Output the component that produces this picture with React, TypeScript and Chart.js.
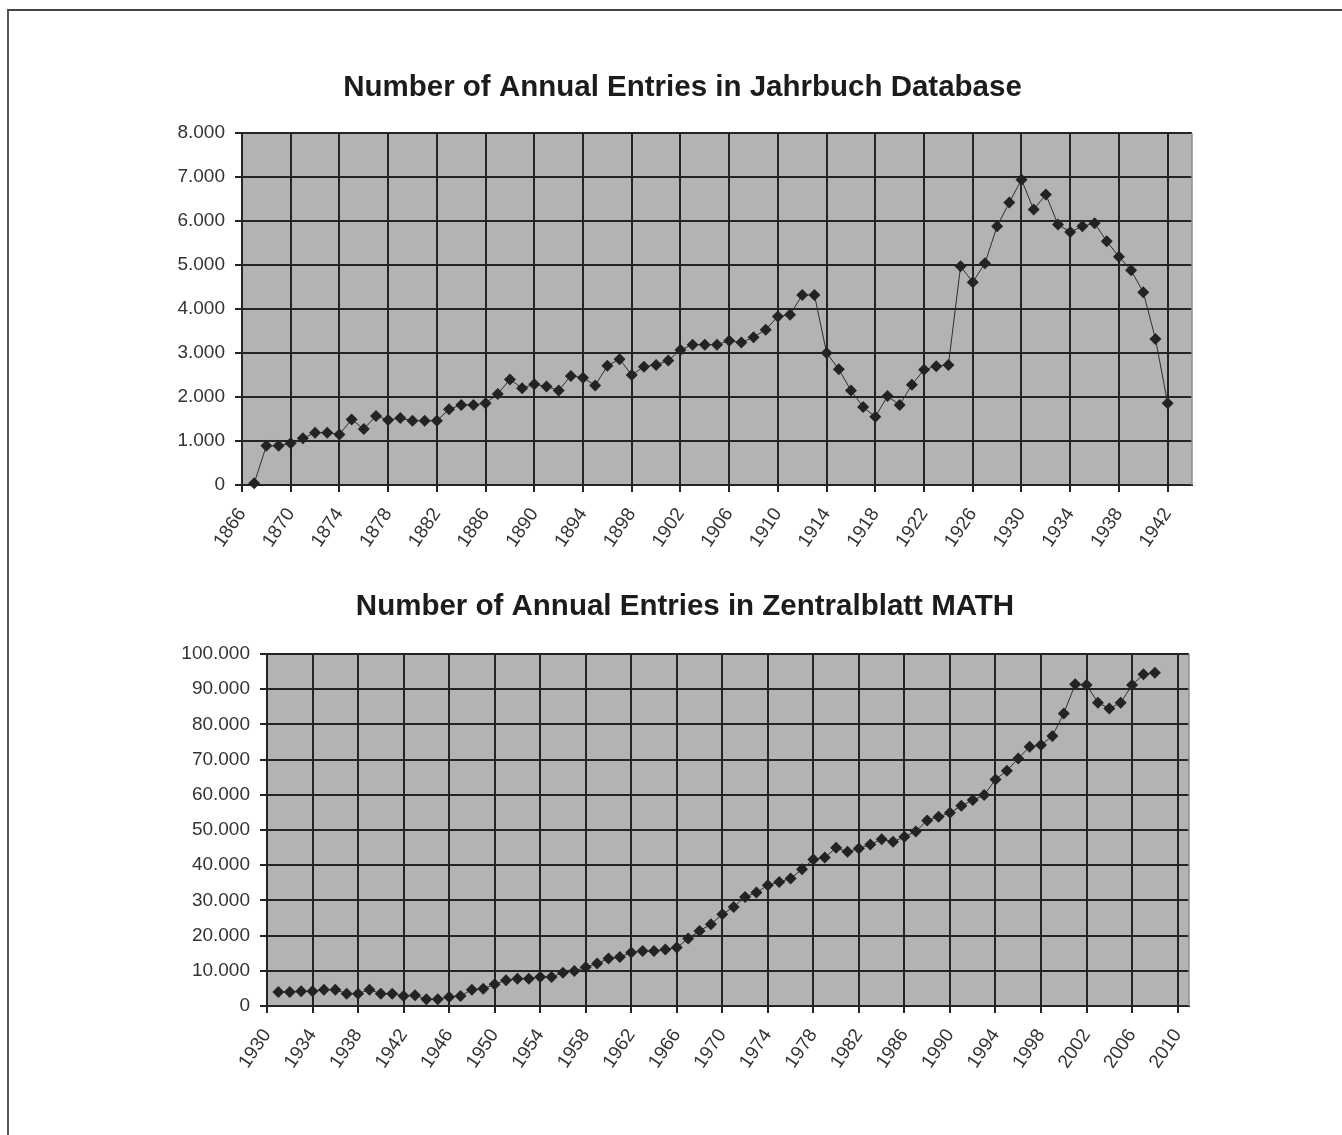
import React, { useEffect, useRef } from 'react';
import { Chart, registerables } from 'chart.js';

Chart.register(...registerables);

// ---------- data ----------
const jahrbuchYears = [
  1867, 1868, 1869, 1870, 1871, 1872, 1873, 1874, 1875, 1876, 1877, 1878, 1879, 1880, 1881, 1882,
  1883, 1884, 1885, 1886, 1887, 1888, 1889, 1890, 1891, 1892, 1893, 1894, 1895, 1896, 1897, 1898,
  1899, 1900, 1901, 1902, 1903, 1904, 1905, 1906, 1907, 1908, 1909, 1910, 1911, 1912, 1913, 1914,
  1915, 1916, 1917, 1918, 1919, 1920, 1921, 1922, 1923, 1924, 1925, 1926, 1927, 1928, 1929, 1930,
  1931, 1932, 1933, 1934, 1935, 1936, 1937, 1938, 1939, 1940, 1941, 1942,
];
const jahrbuchEntries = [
  40, 890, 890, 950, 1060, 1190, 1190, 1150, 1490, 1270, 1570, 1480, 1520, 1460, 1460, 1460,
  1720, 1820, 1820, 1860, 2070, 2400, 2200, 2290, 2240, 2150, 2480, 2440, 2260, 2710, 2860, 2500,
  2690, 2730, 2830, 3070, 3190, 3190, 3190, 3280, 3240, 3360, 3530, 3830, 3870, 4320, 4320, 3000,
  2630, 2150, 1770, 1550, 2020, 1820, 2280, 2620, 2700, 2730, 4970, 4610, 5040, 5880, 6420, 6940,
  6260, 6600, 5920, 5750, 5880, 5950, 5540, 5190, 4880, 4380, 3320, 1860,
];
const jahrbuchTicks = [
  1866, 1870, 1874, 1878, 1882, 1886, 1890, 1894, 1898, 1902, 1906, 1910, 1914, 1918, 1922, 1926,
  1930, 1934, 1938, 1942,
];

const zblYears = [
  1931, 1932, 1933, 1934, 1935, 1936, 1937, 1938, 1939, 1940, 1941, 1942, 1943, 1944, 1945, 1946,
  1947, 1948, 1949, 1950, 1951, 1952, 1953, 1954, 1955, 1956, 1957, 1958, 1959, 1960, 1961, 1962,
  1963, 1964, 1965, 1966, 1967, 1968, 1969, 1970, 1971, 1972, 1973, 1974, 1975, 1976, 1977, 1978,
  1979, 1980, 1981, 1982, 1983, 1984, 1985, 1986, 1987, 1988, 1989, 1990, 1991, 1992, 1993, 1994,
  1995, 1996, 1997, 1998, 1999, 2000, 2001, 2002, 2003, 2004, 2005, 2006, 2007, 2008,
];
const zblEntries = [
  3980, 3980, 4170, 4170, 4650, 4650, 3510, 3510, 4650, 3510, 3510, 2840, 3030, 1900, 1900, 2560,
  2840, 4650, 4930, 6160, 7300, 7770, 7770, 8250, 8250, 9480, 9950, 11000, 12040, 13460, 13930, 15170,
  15640, 15640, 16020, 16590, 19150, 21330, 23220, 26070, 28150, 31000, 32230, 34310, 35260, 36210, 38860, 41610,
  42180, 44930, 43790, 44740, 45880, 47400, 46640, 48060, 49580, 52700, 53750, 54880, 56870, 58490, 59910, 64360,
  66830, 70330, 73650, 74130, 76690, 83130, 91380, 91190, 86160, 84550, 86160, 91190, 94220, 94700,
];
const zblTicks = [
  1930, 1934, 1938, 1942, 1946, 1950, 1954, 1958, 1962, 1966, 1970, 1974, 1978, 1982, 1986, 1990,
  1994, 1998, 2002, 2006, 2010,
];

// ---------- helpers ----------
const FONT = "'Liberation Sans', Arial, sans-serif";
const GRID = '#242424';

const fmtThousands = (v: number) => String(v).replace(/\B(?=(\d{3})+(?!\d))/g, '.');

const plotBg = {
  id: 'plotBg',
  beforeDraw(chart: any) {
    const { ctx, chartArea: a } = chart;
    ctx.save();
    ctx.fillStyle = '#b3b3b6';
    ctx.fillRect(a.left, a.top, a.right - a.left, a.bottom - a.top);
    ctx.restore();
  },
  beforeDatasetsDraw(chart: any) {
    const { ctx, chartArea: a } = chart;
    ctx.save();
    ctx.strokeStyle = '#8e8e90';
    ctx.lineWidth = 1.5;
    ctx.beginPath();
    ctx.moveTo(a.right, a.top);
    ctx.lineTo(a.right, a.bottom);
    ctx.stroke();
    ctx.restore();
  },
};

interface Cfg {
  years: number[];
  values: number[];
  ticks: number[];
  xMin: number;
  xMax: number;
  yMax: number;
  yStep: number;
  title: string;
  padTop: number;
  padLeft: number;
  padRight: number;
  yWidth: number;
  xHeight: number;
  titleBottom: number;
}

function makeConfig(c: Cfg): any {
  return {
    type: 'line',
    data: {
      datasets: [
        {
          data: c.years.map((y, i) => ({ x: y, y: c.values[i] })),
          borderColor: '#2e2e2e',
          borderWidth: 1,
          pointStyle: 'rectRot',
          pointRadius: 6,
          pointBackgroundColor: '#232323',
          pointBorderColor: '#232323',
          pointBorderWidth: 0,
          tension: 0,
          fill: false,
          clip: false,
        },
      ],
    },
    options: {
      animation: false,
      responsive: false,
      maintainAspectRatio: false,
      events: [],
      layout: { padding: { top: c.padTop, left: c.padLeft, right: c.padRight, bottom: 0 } },
      plugins: {
        legend: { display: false },
        tooltip: { enabled: false },
        title: {
          display: true,
          text: c.title,
          color: '#1c1c1c',
          font: { family: FONT, size: 29.5, weight: 'bold', lineHeight: 1.2 },
          padding: { top: 0, bottom: c.titleBottom },
        },
      },
      scales: {
        x: {
          type: 'linear',
          min: c.xMin,
          max: c.xMax,
          afterBuildTicks: (axis: any) => {
            axis.ticks = c.ticks.map((v) => ({ value: v }));
          },
          afterFit: (s: any) => {
            s.height = c.xHeight;
          },
          ticks: {
            autoSkip: false,
            minRotation: 56,
            maxRotation: 56,
            color: '#333',
            font: { family: FONT, size: 19 },
            padding: 12,
            callback: (v: number) => String(v),
          },
          grid: { color: GRID, lineWidth: 2, tickLength: 7, drawTicks: true },
          border: { display: true, color: GRID, width: 2 },
        },
        y: {
          min: 0,
          max: c.yMax,
          afterFit: (s: any) => {
            s.width = c.yWidth;
          },
          ticks: {
            stepSize: c.yStep,
            color: '#333',
            font: { family: FONT, size: 19 },
            padding: 10,
            callback: (v: number) => fmtThousands(v),
          },
          grid: { color: GRID, lineWidth: 2, tickLength: 7, drawTicks: true },
          border: { display: true, color: GRID, width: 2 },
        },
      },
    },
    plugins: [plotBg],
  };
}

function LineChart(props: { cfg: Cfg; top: number; height: number }) {
  const ref = useRef<HTMLCanvasElement | null>(null);
  useEffect(() => {
    if (!ref.current) return;
    const chart = new Chart(ref.current, makeConfig(props.cfg));
    return () => chart.destroy();
  }, []);
  return (
    <canvas
      ref={ref}
      width={1342}
      height={props.height}
      style={{ position: 'absolute', left: 0, top: props.top, width: 1342, height: props.height }}
    />
  );
}

const topCfg: Cfg = {
  years: jahrbuchYears,
  values: jahrbuchEntries,
  ticks: jahrbuchTicks,
  xMin: 1866,
  xMax: 1944,
  yMax: 8000,
  yStep: 1000,
  title: 'Number of Annual Entries in Jahrbuch Database',
  padTop: 70.3,
  padLeft: 173,
  padRight: 150,
  yWidth: 69,
  xHeight: 95,
  titleBottom: 27.3,
};

const bottomCfg: Cfg = {
  years: zblYears,
  values: zblEntries,
  ticks: zblTicks,
  xMin: 1930,
  xMax: 2011,
  yMax: 100000,
  yStep: 10000,
  title: 'Number of Annual Entries in Zentralblatt MATH',
  padTop: 9.3,
  padLeft: 181,
  padRight: 153,
  yWidth: 86,
  xHeight: 129,
  titleBottom: 29.3,
};

export default function App() {
  return (
    <div
      style={{
        position: 'absolute',
        left: 0,
        top: 0,
        width: 1342,
        height: 1135,
        overflow: 'hidden',
        background: '#ffffff',
      }}
    >
      <div
        style={{
          position: 'absolute',
          left: 7,
          top: 9,
          right: -4,
          bottom: -4,
          borderTop: '2px solid #444',
          borderLeft: '2px solid #555',
        }}
      />
      <LineChart cfg={topCfg} top={0} height={580} />
      <LineChart cfg={bottomCfg} top={580} height={555} />
    </div>
  );
}
